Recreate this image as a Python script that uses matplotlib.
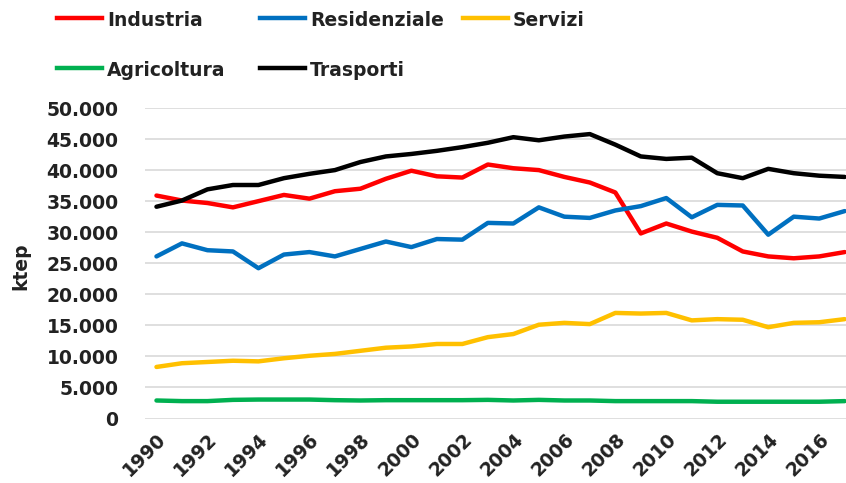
import matplotlib
matplotlib.use("Agg")
import matplotlib.pyplot as plt
from matplotlib.lines import Line2D
from matplotlib.ticker import FuncFormatter, MultipleLocator

years = list(range(1990, 2018))
industria = [35900, 35100, 34700, 34000, 35000, 36000, 35400, 36600, 37000, 38600,
             39900, 39000, 38800, 40900, 40300, 40000, 38900, 38000, 36400, 29800,
             31400, 30100, 29100, 26900, 26100, 25800, 26100, 26800]
residenziale = [26100, 28200, 27100, 26900, 24200, 26400, 26800, 26100, 27300, 28500,
                27600, 28900, 28800, 31500, 31400, 34000, 32500, 32300, 33500, 34200,
                35500, 32400, 34400, 34300, 29600, 32500, 32200, 33400]
servizi = [8300, 8900, 9100, 9300, 9200, 9700, 10100, 10400, 10900, 11400,
           11600, 12000, 12000, 13100, 13600, 15100, 15400, 15200, 17000, 16900,
           17000, 15800, 16000, 15900, 14700, 15400, 15500, 16000]
agricoltura = [2900, 2800, 2800, 3000, 3050, 3050, 3050, 2950, 2900, 2950,
               2950, 2950, 2950, 3000, 2900, 3000, 2900, 2900, 2800, 2800,
               2800, 2800, 2700, 2700, 2700, 2700, 2700, 2800]
trasporti = [34100, 35100, 36900, 37600, 37600, 38700, 39400, 40000, 41300, 42200,
             42600, 43100, 43700, 44400, 45300, 44800, 45400, 45800, 44100, 42200,
             41800, 42000, 39500, 38700, 40200, 39500, 39100, 38900]

series = [
    ("Industria", industria, "#FF0000"),
    ("Residenziale", residenziale, "#0070C0"),
    ("Servizi", servizi, "#FFC000"),
    ("Agricoltura", agricoltura, "#00B050"),
    ("Trasporti", trasporti, "#000000"),
]
xtick_labels = [str(y) for y in range(1990, 2017, 2)]

FONT = "DejaVu Sans"
FS = 13.5
TXT = "#222222"

W, H = 846, 483
fig = plt.figure(figsize=(W / 100, H / 100), dpi=100)
left_px, right_px, top_px, bot_px = 145, 846, 108, 418.5
ax = fig.add_axes([left_px / W, 1 - bot_px / H, (right_px - left_px) / W, (bot_px - top_px) / H])

for name, vals, col in series:
    ax.plot(years, vals, color=col, lw=3.2, solid_joinstyle="round", solid_capstyle="round", zorder=3)

ax.set_ylim(0, 50000)
ax.set_xlim(1989.55, 2017.05)
ax.yaxis.set_major_locator(MultipleLocator(5000))
ax.yaxis.set_major_formatter(FuncFormatter(lambda v, p: f"{int(v):,}".replace(",", ".")))
ax.set_xticks(list(range(1990, 2017, 2)))
ax.set_xticklabels(xtick_labels)
ax.grid(axis="y", color="#D9D9D9", lw=1.2, zorder=0)
ax.grid(axis="x", visible=False)
for s in ax.spines.values():
    s.set_visible(False)
ax.tick_params(axis="both", length=0)
ax.tick_params(axis="y", pad=19)
for lab in ax.get_yticklabels():
    lab.set_fontfamily(FONT)
    lab.set_fontweight("bold")
    lab.set_fontsize(FS)
    lab.set_color(TXT)
for lab in ax.get_xticklabels():
    lab.set_fontfamily(FONT)
    lab.set_fontweight("bold")
    lab.set_fontsize(FS)
    lab.set_rotation(45)
    lab.set_ha("right")
    lab.set_va("top")
    lab.set_rotation_mode("anchor")
    lab.set_color(TXT)
ax.tick_params(axis="x", pad=8)

fig.text(21 / W, 1 - 266 / H, "ktep", rotation=90, ha="center", va="center",
         fontfamily=FONT, fontweight="bold", fontsize=FS, color=TXT)

# legend
leg_pos = {
    "Industria": (57, 18), "Residenziale": (260, 18), "Servizi": (463, 18),
    "Agricoltura": (57, 68), "Trasporti": (260, 68),
}
for name, vals, col in series:
    x0, y0 = leg_pos[name]
    fig.add_artist(Line2D([x0 / W, (x0 + 45) / W], [1 - y0 / H, 1 - y0 / H],
                          color=col, lw=3.2, transform=fig.transFigure))
    fig.text((x0 + 50) / W, 1 - y0 / H, name, ha="left", va="center_baseline",
             fontfamily=FONT, fontweight="bold", fontsize=FS, color=TXT)

fig.savefig("out.png", dpi=100)
